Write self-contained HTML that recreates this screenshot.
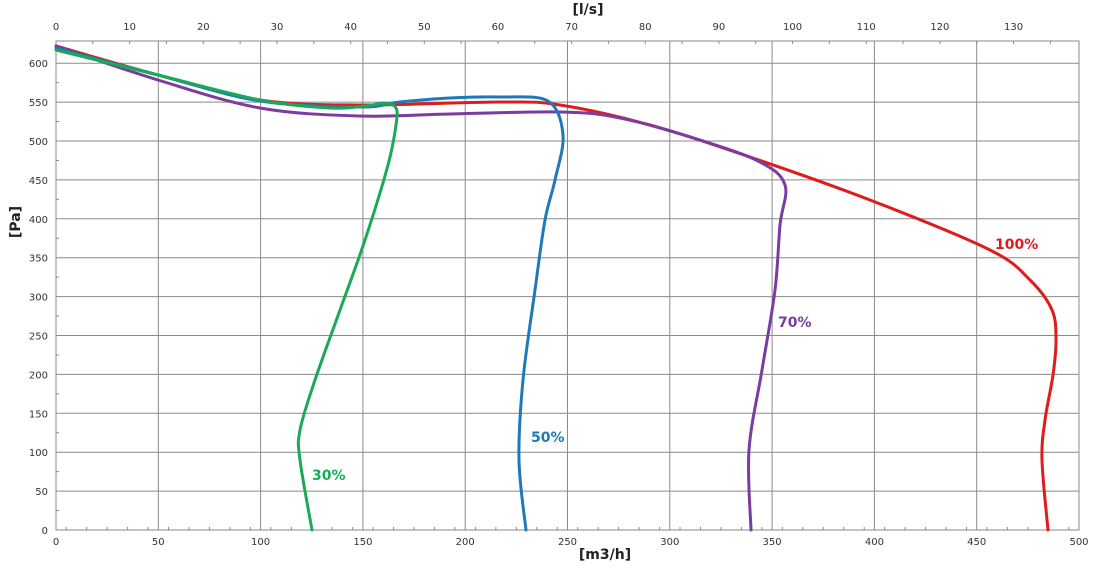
<!DOCTYPE html>
<html><head><meta charset="utf-8"><style>
body{margin:0;background:#fff;width:1094px;height:565px;overflow:hidden}
svg text{font-family:"DejaVu Sans","Liberation Sans",sans-serif}
</style></head><body>
<svg id="s" width="1094" height="565" xmlns="http://www.w3.org/2000/svg">
<g id="grid" stroke="#8a8a8a" stroke-width="1" fill="none"></g>
<g id="lbl" font-size="10" fill="#333"></g>
<text x="588" y="14" font-size="14" font-weight="bold" text-anchor="middle" fill="#222">[l/s]</text>
<text x="605" y="559" font-size="14" font-weight="bold" text-anchor="middle" fill="#222">[m3/h]</text>
<text x="20" y="222" font-size="14" font-weight="bold" text-anchor="middle" fill="#222" transform="rotate(-90 20 222)">[Pa]</text>
<g id="curves" fill="none" stroke-width="3" stroke-linecap="round"></g>
<text x="995" y="249" font-size="14" font-weight="bold" fill="#e01b1b">100%</text>
<text x="778" y="327" font-size="14" font-weight="bold" fill="#7a3c9e">70%</text>
<text x="531" y="442" font-size="14" font-weight="bold" fill="#1f78b8">50%</text>
<text x="312" y="480" font-size="14" font-weight="bold" fill="#1aaa55">30%</text>
</svg>
<script>
const NS="http://www.w3.org/2000/svg";
const L=56,R=1079,T=41,B=530;
const g=document.getElementById('grid'),lb=document.getElementById('lbl');
function el(p,t,a,txt){const e=document.createElementNS(NS,t);for(const k in a)e.setAttribute(k,a[k]);if(txt!==undefined)e.textContent=txt;p.appendChild(e);return e;}
el(g,'rect',{x:L,y:T,width:R-L,height:B-T});
for(let v=0;v<=500;v+=50){const x=L+v*(R-L)/500;if(v>0&&v<500)el(g,'line',{x1:x,y1:T,x2:x,y2:B});el(lb,'text',{x:x,y:B+15,'text-anchor':'middle'},v);}
for(let v=5;v<500;v+=10){const x=L+v*(R-L)/500;el(g,'line',{x1:x,y1:B,x2:x,y2:B-3});}
for(let p=0;p<=600;p+=50){const y=B-p*0.778;if(p>0)el(g,'line',{x1:L,y1:y,x2:R,y2:y});el(lb,'text',{x:L-8,y:y+4,'text-anchor':'end'},p);}
for(let p=25;p<625;p+=50){const y=B-p*0.778;el(g,'line',{x1:L,y1:y,x2:L+3,y2:y});}
for(let q=0;q<=135;q+=5){const x=L+q*3.6*(R-L)/500;if(x>R)break;el(g,'line',{x1:x,y1:T,x2:x,y2:T+3});if(q%10==0)el(lb,'text',{x:x,y:T-11,'text-anchor':'middle'},q);}
function cr(P){let d='M'+P[0];for(let i=0;i<P.length-1;i++){const p0=P[i-1]||P[i],p1=P[i],p2=P[i+1],p3=P[i+2]||p2;
d+=' C'+(p1[0]+(p2[0]-p0[0])/6)+','+(p1[1]+(p2[1]-p0[1])/6)+' '+(p2[0]-(p3[0]-p1[0])/6)+','+(p2[1]-(p3[1]-p1[1])/6)+' '+p2;}return d;}
const c=document.getElementById('curves');
const S={
'#e01b1b':[[56,46],[158,75],[260,100],[360,105],[500,102],[560,105],[650,125],[750,157],[870,200],[990,250],[1030,280],[1052,310],[1056,340],[1053,375],[1045,420],[1042,460],[1048,530]],
'#7a3c9e':[[56,46],[158,80],[260,108],[360,116],[450,114],[560,112],[620,118],[700,140],[760,162],[785,185],[780,225],[775,290],[762,370],[749,450],[751,530]],
'#1f78b8':[[56,48],[158,75],[260,101],[360,107],[400,102],[450,98],[500,97],[548,101],[563,135],[555,180],[545,220],[535,290],[523,380],[519,460],[526,530]],
'#1aaa55':[[56,50],[158,75],[260,100],[330,108],[365,106],[385,103],[396,108],[396,125],[388,165],[365,240],[340,310],[315,380],[300,430],[300,460],[312,530]]};
for(const k in S)el(c,'path',{d:cr(S[k]),stroke:k});
</script>
</body></html>
